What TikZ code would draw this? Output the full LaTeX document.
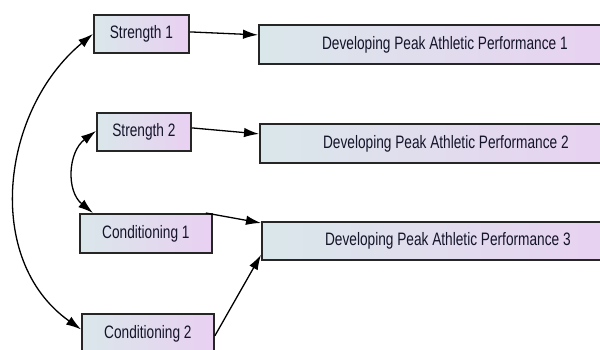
\documentclass[tikz,border=0pt]{standalone}
\usepackage{fontspec}
\newfontfamily\boxfont{Liberation Sans}[FakeStretch=0.76]
\usetikzlibrary{arrows.meta, positioning, calc}
\definecolor{boxleft}{HTML}{DAE7EA}
\definecolor{boxright}{HTML}{E9D0F2}
\definecolor{boxline}{HTML}{262626}
\definecolor{boxtext}{HTML}{14142A}

\begin{document}
\begin{tikzpicture}[x=1pt, y=-1pt, >={Latex[length=15pt,width=9.5pt]}, line width=1.3pt,
    box/.style={draw=boxline, line width=1.8pt, left color=boxleft, right color=boxright,
        text=boxtext, font=\boxfont\fontsize{18}{21}\selectfont, inner sep=0pt, anchor=north west},
    small/.style={box, minimum width=95pt, minimum height=38pt},
    wide/.style={box, minimum width=132pt, minimum height=39pt},
    goal/.style={box, minimum width=372pt, minimum height=39pt}]
    \useasboundingbox (0,0) rectangle (600,350);
    \clip (0,0) rectangle (600,350);

    \node[small] (s1) at (93,14) {Strength 1};
    \node[small, minimum width=94pt] (s2) at (96,112) {Strength 2};
    \node[wide] (c1) at (79,213) {Conditioning 1};
    \node[wide] (c2) at (81,313) {Conditioning 2};

    \node[goal] (d1) at (258,24) {Developing Peak Athletic Performance 1};
    \node[goal] (d2) at (259,123) {Developing Peak Athletic Performance 2};
    \node[goal, minimum height=38pt] (d3) at (261,221) {Developing Peak Athletic Performance 3};

    % paths to outcomes
    \draw[->] ([yshift=2pt]s1.east) -- ([yshift=9.5pt]d1.west);
    \draw[->] ([yshift=4pt]s2.east) -- ([yshift=9.5pt]d2.west);
    \draw[->] ([xshift=-7pt]c1.north east) -- ([yshift=-2pt]d3.north west);
    \draw[->] ([yshift=-2.5pt]c2.east) -- ([yshift=6pt]d3.south west);

    % covariances
    \draw[<->] ([yshift=4pt]c2.west) .. controls (-17,260) and (1,110) .. (s1.west);
    \draw[<->] ([xshift=14pt]c1.north west) .. controls (66,191) and (68,152) .. ([yshift=1pt]s2.west);
\end{tikzpicture}
\end{document}
